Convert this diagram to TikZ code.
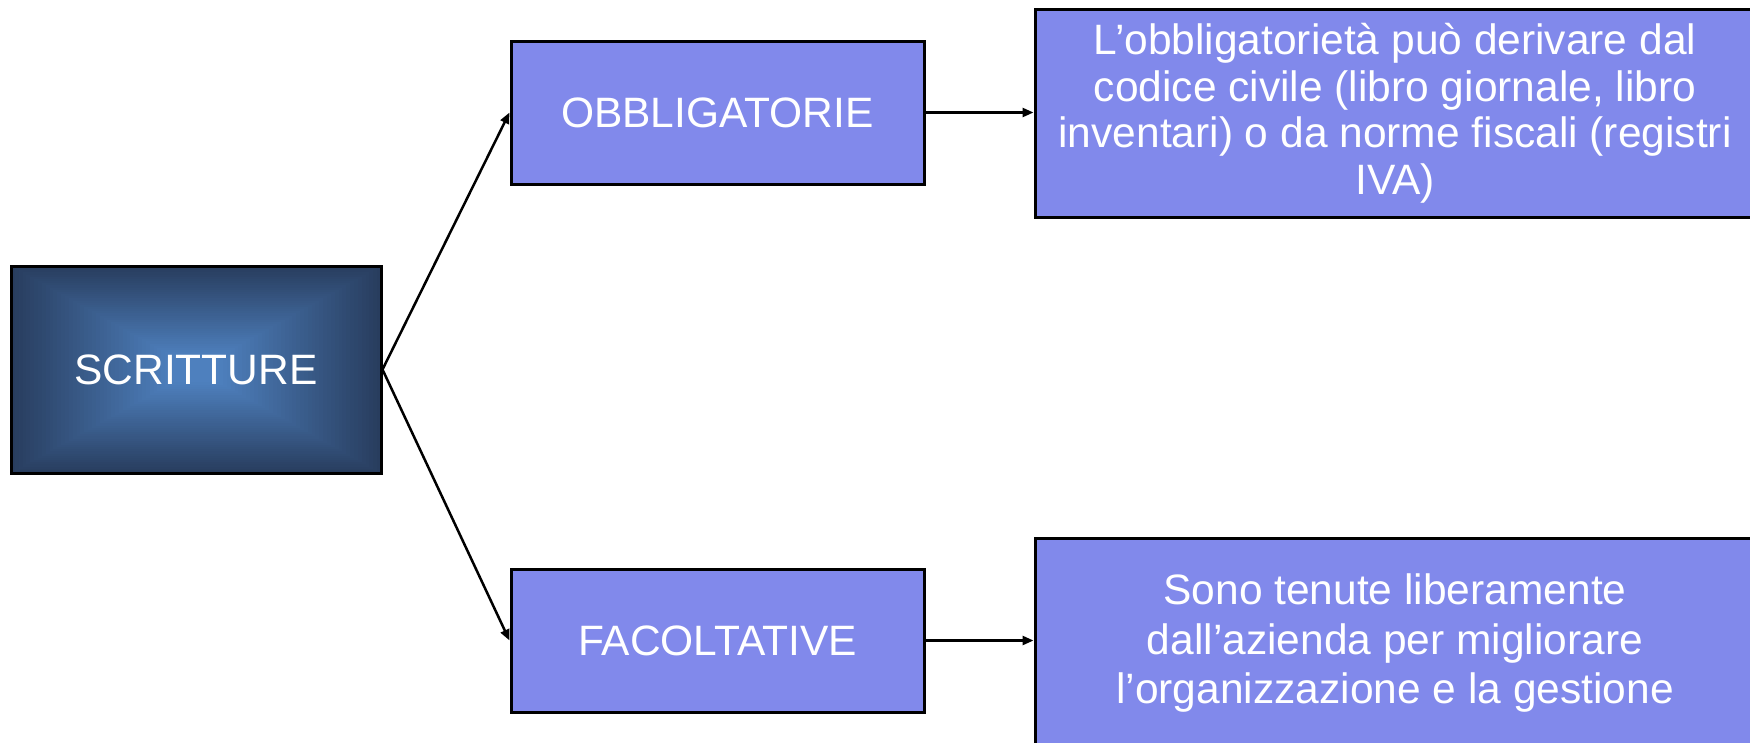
\documentclass[tikz,border=0pt]{standalone}
\usepackage{fontspec}
\setmainfont{Liberation Sans}
\usetikzlibrary{arrows.meta,calc}

\definecolor{boxblue}{RGB}{129,137,235}
\definecolor{edgenavy}{RGB}{40,61,94}
\definecolor{centerblue}{RGB}{78,128,190}

\tikzset{
  boxtext/.style={text=white, font=\fontsize{42.5}{50}\selectfont, align=center, inner sep=0pt},
  catbox/.style={boxtext, draw=black, line width=3pt, fill=boxblue, rectangle},
  rootbox/.style={boxtext, draw=black, line width=3pt, rectangle,
    path picture={
      \foreach \i in {0,...,48}{
        \pgfmathsetmacro\f{1-\i/48}
        \pgfmathsetmacro\p{min(100,115*\i/48)}
        \fill[centerblue!\p!edgenavy]
          ($(path picture bounding box.center)!\f!(path picture bounding box.south west)$)
          rectangle
          ($(path picture bounding box.center)!\f!(path picture bounding box.north east)$);
      }
    }},
  link/.style={line width=2.5pt, -{Triangle[length=11pt,width=9pt]}}
}

\begin{document}
\begin{tikzpicture}[x=1pt,y=-1pt]
  \useasboundingbox (0,0) rectangle (1750,742);

  % root
  \node[rootbox, minimum width=370pt, minimum height=207pt] (scr) at (196,369.5) {SCRITTURE};

  % categories
  \node[catbox, minimum width=413pt, minimum height=143pt] (obb) at (717.5,112.5) {OBBLIGATORIE};
  \node[catbox, minimum width=413pt, minimum height=143pt] (fac) at (717.5,640.5) {FACOLTATIVE};

  % descriptions
  \node[catbox, minimum width=720pt, minimum height=208pt,
        font=\fontsize{42.5}{46.5}\selectfont] (dobb) at (1395,113)
    {L’obbligatorietà può derivare dal\\codice civile (libro giornale, libro\\inventari) o da norme fiscali (registri\\IVA)};
  \node[catbox, minimum width=720pt, minimum height=210pt] (dfac) at (1395,643)
    {Sono tenute liberamente\\dall’azienda per migliorare\\l’organizzazione e la gestione};

  % connectors
  \draw[link] (scr.east) -- (obb.west);
  \draw[link] (scr.east) -- (fac.west);
  \draw[link] (obb.east) -- (obb.east -| dobb.west);
  \draw[link] (fac.east) -- (fac.east -| dfac.west);
\end{tikzpicture}
\end{document}
